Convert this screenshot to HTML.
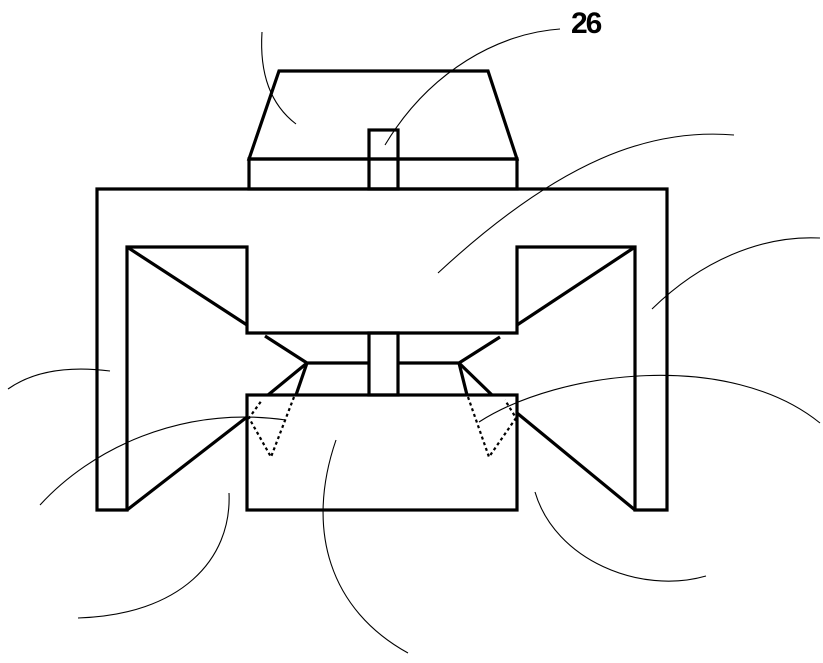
<!DOCTYPE html>
<html><head><meta charset="utf-8"><style>html,body{margin:0;padding:0;background:#fff}svg{display:block}</style></head>
<body>
<svg width="823" height="663" viewBox="0 0 823 663" xmlns="http://www.w3.org/2000/svg">
<g fill="none" stroke="#000" stroke-width="3.2" stroke-linejoin="miter">
  <path d="M249,159 L279,71 L488,71 L517,159 Z"/>
  <rect x="249" y="159" width="268" height="30"/>
  <rect x="369" y="130" width="29" height="59"/>
  <path d="M97,510 L97,189 L667,189 L667,510 L635,510 L635,247 L517,247 L517,333 L247,333 L247,247 L127,247 L127,510 Z"/>
  <line x1="127" y1="247" x2="247" y2="325"/>
  <line x1="635" y1="247" x2="517" y2="325"/>
  <path d="M265,336 L307,363 L369,363"/>
  <path d="M500,337 L459,363 L398,363"/>
  <rect x="369" y="333" width="29" height="62"/>
  <rect x="247" y="395" width="270" height="115"/>
  <line x1="127" y1="510" x2="247" y2="417"/>
  <line x1="635" y1="510" x2="517" y2="413"/>
  <line x1="307" y1="363" x2="268" y2="395"/>
  <line x1="307" y1="363" x2="296" y2="395"/>
  <line x1="459" y1="363" x2="492" y2="395"/>
  <line x1="459" y1="363" x2="467" y2="395"/>
</g>
<g fill="none" stroke="#000" stroke-width="2.2" stroke-dasharray="3,3">
  <path d="M294,397 L271,457 L249,418 L262,400"/>
  <path d="M468,397 L489,457 L516,418 L505,400"/>
</g>
<g fill="none" stroke="#000" stroke-width="1.1">
  <path d="M262,32 Q258,95 296,124"/>
  <path d="M560,29 C500,33 430,70 385,145"/>
  <path d="M734,135 C650,128 560,160 438,273"/>
  <path d="M820,238 C760,235 700,262 652,309"/>
  <path d="M8,389 C35,370 70,366 110,371"/>
  <path d="M40,505 C90,450 180,405 286,420"/>
  <path d="M229,493 C232,560 180,615 78,618"/>
  <path d="M336,440 C305,530 330,610 408,653"/>
  <path d="M535,492 C555,560 640,595 706,576"/>
  <path d="M479,422 C560,370 730,350 820,423"/>
</g>
<text x="571" y="33" font-family="Liberation Sans, sans-serif" font-weight="bold" font-size="30" letter-spacing="-2">26</text>
</svg>
</body></html>
